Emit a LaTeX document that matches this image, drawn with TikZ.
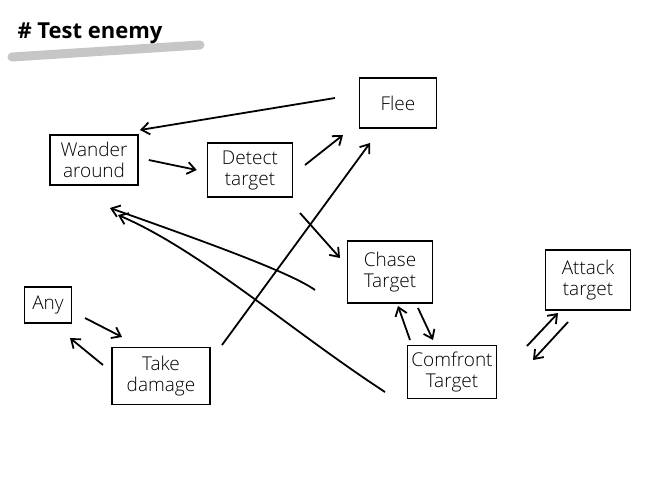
\documentclass[tikz,border=0pt]{standalone}
\usepackage{fontspec}
\setmainfont{Open Sans Light}
\usetikzlibrary{arrows.meta}
\begin{document}
\begin{tikzpicture}[x=1pt,y=-1pt,
  box/.style={draw,line width=1.5pt,align=center,font=\fontsize{19}{21}\selectfont,inner sep=0pt},
  ar/.style={line width=1.8pt,-{Straight Barb[length=8pt,width=12pt]}}]
\useasboundingbox (0,0) rectangle (650,488);
\draw[line width=9pt,gray!45,line cap=round] (12,57) -- (200,45);
\node[font=\fontspec{Open Sans}\bfseries\fontsize{22}{24}\selectfont,anchor=west] (title) at (14,33) {\# Test enemy};
\node[box,minimum width=88pt,minimum height=50pt] (wander) at (94,160) {Wander\\around};
\node[box,minimum width=85pt,minimum height=54pt] (detect) at (250,170) {Detect\\target};
\node[box,minimum width=77pt,minimum height=50pt] (flee) at (398,103) {Flee};
\node[box,minimum width=85pt,minimum height=62pt] (chase) at (390,272) {Chase\\Target};
\node[box,minimum width=85pt,minimum height=60pt] (attack) at (588,280) {Attack\\target};
\node[box,minimum width=47pt,minimum height=36pt] (any) at (48,305) {Any};
\node[box,minimum width=98pt,minimum height=57pt] (take) at (161,376) {Take\\damage};
\node[box,minimum width=89pt,minimum height=53pt] (conf) at (452,372) {Comfront\\Target};
\coordinate (a1) at (335,98); \coordinate (a2) at (140,130);
\draw[ar] (a1) -- (a2);
\draw[ar] ([xshift=10pt]wander.east) -- ([xshift=-10pt]detect.west);
\coordinate (b1) at (305,165); \coordinate (b2) at (343,135);
\draw[ar] (b1) -- (b2);
\coordinate (c1) at (300,213); \coordinate (c2) at (340,258);
\draw[ar] (c1) -- (c2);
\coordinate (d1) at (315,290); \coordinate (d2) at (110,208);
\draw[ar] (d1) .. controls (290,272) and (200,240) .. (d2);
\coordinate (e1) at (385,392); \coordinate (e2) at (118,215);
\draw[ar] (e1) .. controls (290,330) and (200,250) .. (e2);
\coordinate (f1) at (222,345); \coordinate (f2) at (370,143);
\draw[ar] (f1) -- (f2);
\coordinate (g1) at (85,318); \coordinate (g2) at (122,337);
\draw[ar] (g1) -- (g2);
\coordinate (h1) at (103,365); \coordinate (h2) at (70,338);
\draw[ar] (h1) -- (h2);
\coordinate (i1) at (410,340); \coordinate (i2) at (398,306);
\draw[ar] (i1) -- (i2);
\coordinate (j1) at (418,308); \coordinate (j2) at (433,340);
\draw[ar] (j1) -- (j2);
\coordinate (k1) at (527,346); \coordinate (k2) at (558,313);
\draw[ar] (k1) -- (k2);
\coordinate (l1) at (568,322); \coordinate (l2) at (533,360);
\draw[ar] (l1) -- (l2);
\end{tikzpicture}
\end{document}
